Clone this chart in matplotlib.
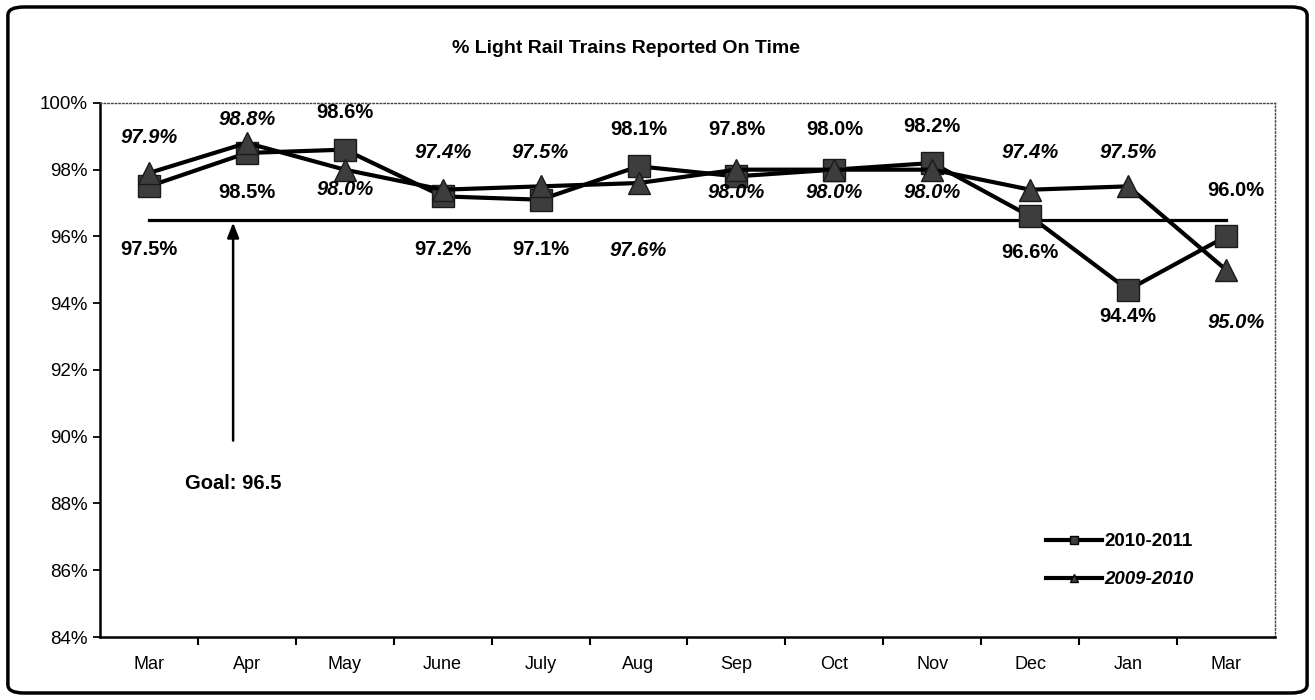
import matplotlib
matplotlib.use('Agg')
import matplotlib.pyplot as plt
from matplotlib.lines import Line2D
from matplotlib.patches import FancyBboxPatch

plt.rcParams['font.family'] = ['Liberation Sans', 'DejaVu Sans']

months = ['Mar', 'Apr', 'May', 'June', 'July', 'Aug', 'Sep', 'Oct', 'Nov', 'Dec', 'Jan', 'Mar']
s2010_2011 = [97.5, 98.5, 98.6, 97.2, 97.1, 98.1, 97.8, 98.0, 98.2, 96.6, 94.4, 96.0]
s2009_2010 = [97.9, 98.8, 98.0, 97.4, 97.5, 97.6, 98.0, 98.0, 98.0, 97.4, 97.5, 95.0]
goal = 96.5
yticks = [84, 86, 88, 90, 92, 94, 96, 98, 100]

# label offsets in pixels (negative = above the marker)
off_sq = [63, 40, -37, 53, 50, -37, -47, -40, -36, 36, 27, -46]
off_tri = [-36, -23, 20, -37, -34, 67, 23, 23, 23, -37, -34, 53]

fig = plt.figure(figsize=(13.15, 7), dpi=100)
ax = fig.add_axes([0.076, 0.09, 0.8936, 0.763])

x = list(range(len(months)))
ax.plot(x, s2010_2011, color='black', lw=3, marker='s', ms=16,
        mfc='#3d3d3d', mec='#1a1a1a', zorder=3)
ax.plot(x, s2009_2010, color='black', lw=3, marker='^', ms=16,
        mfc='#3d3d3d', mec='#1a1a1a', zorder=3)
ax.plot([0, 11], [goal, goal], color='black', lw=2.3, zorder=2)

for i, v in enumerate(s2010_2011):
    dx = 10 if i == len(x) - 1 else 0
    ax.annotate('%.1f%%' % v, (i, v), xytext=(dx, -off_sq[i]), textcoords='offset pixels',
                ha='center', va='center', fontsize=14.5, fontweight='bold')
for i, v in enumerate(s2009_2010):
    dx = 10 if i == len(x) - 1 else 0
    ax.annotate('%.1f%%' % v, (i, v), xytext=(dx, -off_tri[i]), textcoords='offset pixels',
                ha='center', va='center', fontsize=14.5, fontweight='bold', fontstyle='italic')

ax.annotate('', xy=(0.86, goal), xytext=(0.86, 89.8),
            arrowprops=dict(arrowstyle='-|>,head_width=0.35,head_length=0.9', color='black', lw=1.8))
ax.text(0.86, 88.6, 'Goal: 96.5', ha='center', va='center', fontsize=14.5, fontweight='bold')

ax.set_xlim(-0.5, 11.5)
ax.set_ylim(84, 100)
ax.set_yticks(yticks)
ax.set_yticklabels(['%d%%' % t for t in yticks], fontsize=13.5)
ax.set_xticks(x)
ax.set_xticklabels(months, fontsize=13)
ax.tick_params(axis='x', length=0, pad=14)
ax.set_xticks([i + 0.5 for i in x[:-1]], minor=True)
ax.tick_params(axis='x', which='minor', length=6, width=1.5, direction='out')
ax.tick_params(axis='y', length=5, width=1.3, direction='out', pad=4)

for s in ['left', 'bottom']:
    ax.spines[s].set_linewidth(1.8)
for s in ['top', 'right']:
    ax.spines[s].set_linewidth(1.0)
    ax.spines[s].set_linestyle(':')
    ax.spines[s].set_color('#444444')

handles = [Line2D([], [], color='black', lw=3, marker='s', ms=6, mfc='#3d3d3d'),
           Line2D([], [], color='black', lw=3, marker='^', ms=6, mfc='#3d3d3d')]
leg = ax.legend(handles, ['2010-2011', '2009-2010'], loc='lower right',
                bbox_to_anchor=(0.945, 0.06), frameon=False, fontsize=13.5,
                handlelength=3.0, handletextpad=0.1, labelspacing=1.1)
texts = leg.get_texts()
texts[0].set_fontweight('bold')
texts[1].set_fontweight('bold')
texts[1].set_fontstyle('italic')

fig.text(0.476, 0.931, '% Light Rail Trains Reported On Time', ha='center', va='center',
         fontsize=14, fontweight='bold')

border = FancyBboxPatch((0.006, 0.01), 0.988, 0.98, boxstyle='round,pad=0,rounding_size=0.012',
                        transform=fig.transFigure, fill=False, lw=2.5, ec='black')
fig.patches.append(border)

fig.savefig('out.png', dpi=100)
